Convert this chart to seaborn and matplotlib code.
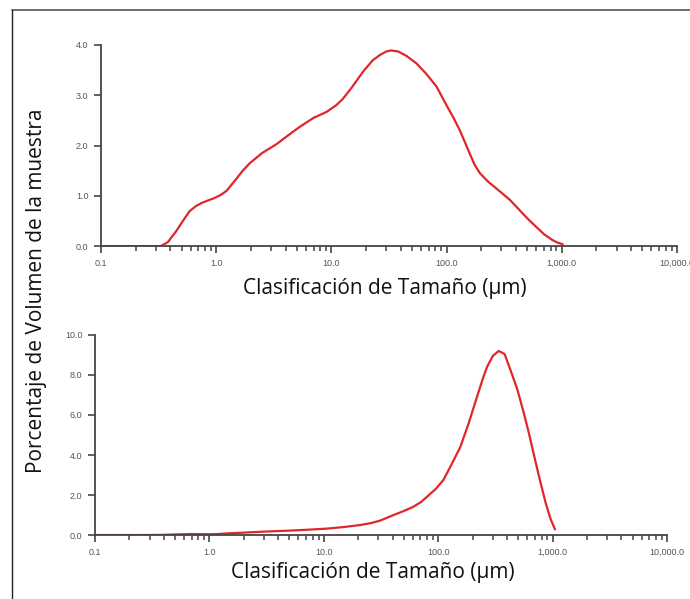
import matplotlib
matplotlib.use("Agg")
import matplotlib.pyplot as plt
import matplotlib.ticker as mticker
import seaborn as sns
from matplotlib.lines import Line2D

# muestra 1 (arriba)
size_a = [0.1, 0.2, 0.33, 0.38, 0.45, 0.52, 0.59, 0.67, 0.75, 0.85, 0.95, 1.1, 1.23,
          1.45, 1.7, 1.96, 2.5, 3.35, 4.2, 5.3, 7, 9.1, 11, 12.6, 15, 19, 23, 26.4,
          30, 33, 38, 45, 55, 67, 82, 100, 115, 130, 155, 175, 195, 230, 280, 355,
          450, 520, 603, 700, 820, 920, 1020]
vol_a = [0, 0, 0, 0.08, 0.3, 0.52, 0.7, 0.8, 0.86, 0.91, 0.95, 1.02, 1.1,
         1.3, 1.5, 1.65, 1.85, 2.03, 2.2, 2.37, 2.55, 2.67, 2.8, 2.93, 3.15, 3.48, 3.7, 3.8,
         3.87, 3.89, 3.87, 3.78, 3.63, 3.42, 3.17, 2.8, 2.55, 2.31, 1.9, 1.62, 1.45, 1.28, 1.12, 0.92,
         0.67, 0.52, 0.38, 0.24, 0.13, 0.07, 0.04]

# muestra 2 (abajo)
size_b = [0.1, 0.3, 0.4, 0.5, 0.7, 1.0, 1.2, 1.4, 2, 3, 5, 7, 10.6, 15, 20.8, 26, 31,
          40.8, 50, 60, 70, 80, 95, 111, 130, 156, 185, 218, 245, 267, 300, 338, 380,
          428, 490, 560, 620, 680, 770, 870, 960, 1050]
vol_b = [0, 0, 0.01, 0.03, 0.05, 0.04, 0.05, 0.08, 0.12, 0.17, 0.22, 0.26, 0.32, 0.4, 0.5, 0.6, 0.72,
         1.0, 1.2, 1.4, 1.63, 1.92, 2.3, 2.75, 3.5, 4.4, 5.6, 6.9, 7.8, 8.4, 8.95, 9.2, 9.05,
         8.25, 7.3, 6.1, 5.1, 4.1, 2.8, 1.6, 0.8, 0.28]

x_ticks = [0.1, 1, 10, 100, 1000, 10000]
x_labels = ["0.1", "1.0", "10.0", "100.0", "1,000.0", "10,000.0"]

sns.set_theme(style="white")
plt.rcParams['font.family'] = ['Open Sans', 'DejaVu Sans']

fig = plt.figure(figsize=(6.9, 5.99), dpi=100)
ax1 = fig.add_axes([0.1464, 0.589, 0.8346, 0.336])
ax2 = fig.add_axes([0.1377, 0.1068, 0.829, 0.334])

red = "#e0262b"
sns.lineplot(x=size_a, y=vol_a, ax=ax1, color=red, lw=1.6)
sns.lineplot(x=size_b, y=vol_b, ax=ax2, color=red, lw=1.6)


def style(ax, ymax, ystep):
    ax.set_xscale("log")
    ax.set_xlim(0.1, 10000)
    ax.set_ylim(0, ymax)
    ax.set_xticks(x_ticks)
    ax.set_xticklabels(x_labels)
    ax.xaxis.set_minor_locator(mticker.LogLocator(base=10, subs=range(2, 10), numticks=20))
    ax.xaxis.set_minor_formatter(mticker.NullFormatter())
    yt = [i * ystep for i in range(int(round(ymax / ystep)) + 1)]
    ax.set_yticks(yt)
    ax.set_yticklabels([f"{v:.1f}" for v in yt])
    sns.despine(ax=ax)
    for s in ["left", "bottom"]:
        ax.spines[s].set_color("#444444")
        ax.spines[s].set_linewidth(1.3)
    ax.tick_params(axis="both", which="major", direction="out", length=5, width=1.2,
                   color="#444444", labelsize=6.5, labelcolor="#555555", pad=4,
                   bottom=True, left=True)
    ax.tick_params(axis="x", which="minor", direction="out", length=3.5, width=1.1,
                   color="#444444", bottom=True)
    for lab in ax.get_xticklabels() + ax.get_yticklabels():
        lab.set_family("Liberation Sans")
    ax.set_xlabel("")
    ax.set_ylabel("")
    ax.grid(False)


style(ax1, 4.0, 1.0)
style(ax2, 10.0, 2.0)

fig.text(0.558, 0.518, "Clasificación de Tamaño (µm)", ha="center", va="center", fontsize=15, color="#111111")
fig.text(0.541, 0.044, "Clasificación de Tamaño (µm)", ha="center", va="center", fontsize=15, color="#111111")
fig.text(0.053, 0.515, "Porcentaje de Volumen de la muestra", ha="center", va="center",
         rotation=90, fontsize=15, color="#111111")

# marco
fig.add_artist(Line2D([0.018, 1.0], [0.983, 0.983], transform=fig.transFigure, color="#555555", lw=1.2))
fig.add_artist(Line2D([0.018, 0.018], [0.0, 0.983], transform=fig.transFigure, color="#222222", lw=1.0))

fig.savefig("out.png", dpi=100)
